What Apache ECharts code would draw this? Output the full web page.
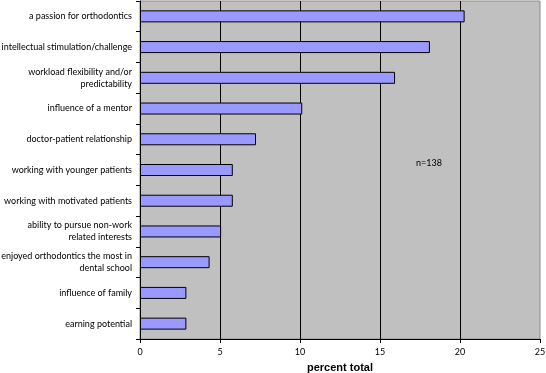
<!DOCTYPE html>
<html><head><meta charset="utf-8">
<script src="https://cdn.jsdelivr.net/npm/echarts@6/dist/echarts.min.js"></script>
<style>html,body{margin:0;padding:0;background:#fff}#c{width:546px;height:373px}</style>
</head><body><div id="c"></div>
<script>
const categories = [
  "a passion for orthodontics",
  "intellectual stimulation/challenge",
  "workload flexibility and/or\npredictability",
  "influence of a mentor",
  "doctor-patient relationship",
  "working with younger patients",
  "working with motivated patients",
  "ability to pursue non-work\nrelated interests",
  "enjoyed orthodontics the most in\ndental school",
  "influence of family",
  "earning potential"
];
const values = [20.29, 18.12, 15.94, 10.14, 7.25, 5.80, 5.80, 5.07, 4.35, 2.90, 2.90];
const xTicks = [0, 5, 10, 15, 20, 25];
const annotation = "n=138";

const chart = echarts.init(document.getElementById('c'), null, {renderer: 'canvas'});
const FONT = 'Lato, "Open Sans", sans-serif';
chart.setOption({
  animation: false,
  grid: {left: 140, right: 6, top: 1, bottom: 34, show: true, outerBoundsMode: 'none', containLabel: false,
         backgroundColor: '#c0c0c0', borderColor: '#8a8a8a', borderWidth: 1},
  xAxis: {
    type: 'value', min: xTicks[0], max: xTicks[xTicks.length - 1], interval: 5,
    axisLine: {show: true, lineStyle: {color: '#000', width: 1}},
    axisTick: {show: true, length: 4, lineStyle: {color: '#000'}},
    axisLabel: {color: '#000', fontSize: 9, fontFamily: FONT, margin: 9},
    splitLine: {show: true, showMinLine: false, showMaxLine: false, lineStyle: {color: '#000', width: 1}},
    name: 'percent total', nameLocation: 'middle', nameGap: 23,
    nameTextStyle: {color: '#000', fontSize: 11, fontWeight: 'bold', fontFamily: 'Liberation Sans, Arial, sans-serif'}
  },
  yAxis: {
    type: 'category', data: categories, inverse: true,
    axisLine: {show: true, lineStyle: {color: '#000', width: 1}},
    axisTick: {show: true, length: 4, lineStyle: {color: '#000'}},
    axisLabel: {color: '#000', fontSize: 9, fontFamily: FONT, margin: 8, lineHeight: 12, align: 'right'},
    splitLine: {show: false}
  },
  series: [{
    type: 'bar', data: values, barWidth: 12,
    itemStyle: {color: '#9999ff', borderColor: '#000', borderWidth: 1}
  }],
  graphic: [{
    type: 'text', left: 416, top: 159,
    style: {text: annotation, fill: '#000', font: '9px ' + FONT}
  }]
});
</script></body></html>
